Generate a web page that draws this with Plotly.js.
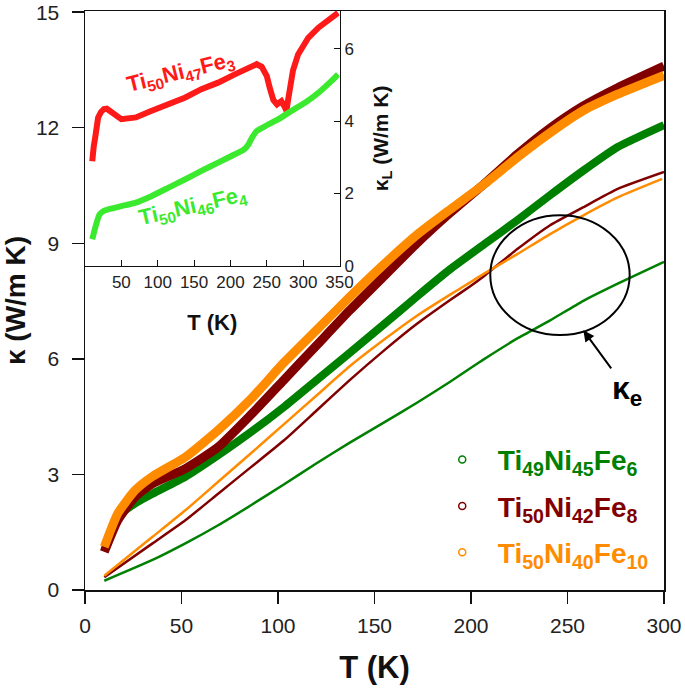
<!DOCTYPE html>
<html>
<head>
<meta charset="utf-8">
<script src="https://cdn.plot.ly/plotly-3.0.1.min.js"></script>
<style>
  html, body { margin: 0; padding: 0; background: #fff; }
  #gd { width: 685px; height: 691px; }
</style>
</head>
<body>
<div id="gd"></div>
<script>
// main panel: total kappa (thick) and electronic kappa_e (thin), T in K
const tThick = [10, 17, 26, 35, 52, 69, 86, 103, 120, 137, 155, 172, 189, 207, 224, 241, 258, 276, 300];
const kGreen = [1.02, 1.9, 2.25, 2.5, 2.94, 3.5, 4.1, 4.75, 5.45, 6.15, 6.9, 7.62, 8.32, 8.98, 9.6, 10.25, 10.88, 11.5, 12.07];
const kMaroon = [0.99, 1.81, 2.42, 2.76, 3.15, 3.71, 4.55, 5.45, 6.35, 7.25, 8.15, 9.0, 9.78, 10.55, 11.31, 11.99, 12.56, 13.04, 13.6];
const kOrange = [1.12, 1.99, 2.59, 2.95, 3.45, 4.15, 4.96, 5.9, 6.75, 7.6, 8.46, 9.22, 9.87, 10.54, 11.23, 11.87, 12.44, 12.87, 13.36];

const tThin = [10, 35, 52, 69, 86, 103, 120, 137, 155, 172, 189, 200, 207, 224, 241, 258, 276, 300];
const keGreen = [0.24, 0.78, 1.21, 1.68, 2.2, 2.74, 3.29, 3.82, 4.35, 4.86, 5.4, 5.77, 6.0, 6.53, 7.0, 7.5, 7.95, 8.52];
const keMaroon = [0.33, 1.21, 1.81, 2.5, 3.19, 3.88, 4.66, 5.44, 6.22, 6.91, 7.52, 7.9, 8.16, 8.85, 9.47, 9.93, 10.41, 10.85];
const tThinOrange = [10, 35, 52, 69, 86, 103, 120, 137, 155, 172, 189, 200, 207, 224, 241, 258, 276, 299];
const keOrange = [0.37, 1.38, 2.07, 2.81, 3.55, 4.3, 5.05, 5.8, 6.5, 7.12, 7.66, 8.0, 8.22, 8.72, 9.24, 9.72, 10.19, 10.67];

// inset: lattice kappa_L
const tInsetRed = [10, 10.5, 12, 14, 18, 22, 26, 30, 35, 40, 45, 50, 60, 70, 90, 115, 138, 160, 183, 206, 225, 236, 243, 250, 254, 259, 264, 270, 275, 277, 279, 281, 283, 286, 293, 307, 321, 335, 348];
const kInsetRed = [2.89, 3.1, 3.3, 3.54, 4.09, 4.25, 4.33, 4.34, 4.28, 4.2, 4.12, 4.05, 4.06, 4.1, 4.27, 4.46, 4.65, 4.88, 5.06, 5.29, 5.47, 5.57, 5.5, 5.24, 4.92, 4.58, 4.46, 4.55, 4.37, 4.28, 4.55, 4.85, 5.1, 5.4, 5.84, 6.3, 6.58, 6.81, 6.99];
const tInsetGreen = [10, 14, 20, 26, 32, 50, 69, 92, 115, 138, 160, 183, 206, 218, 225, 230, 236, 248, 266, 284, 303, 321, 339, 348];
const kInsetGreen = [0.73, 1.05, 1.42, 1.52, 1.56, 1.65, 1.74, 1.93, 2.16, 2.39, 2.62, 2.85, 3.08, 3.2, 3.36, 3.55, 3.72, 3.86, 4.05, 4.28, 4.51, 4.78, 5.11, 5.29];

const xTicks = [0, 50, 100, 150, 200, 250, 300];
const yTicks = [0, 3, 6, 9, 12, 15];
const xTicksInset = [50, 100, 150, 200, 250, 300, 350];
const yTicksInset = [0, 2, 4, 6];

const GREEN = '#008000', MAROON = '#800000', ORANGE = '#FF8C00';
const RED = '#FF1A1A', LIME = '#3BEA2E';
const FONT = 'Arial, "Liberation Sans", sans-serif';

function line(x, y, color, width, xa, ya, smooth) {
  return { x: x, y: y, type: 'scatter', mode: 'lines', showlegend: false, hoverinfo: 'skip',
    xaxis: xa || 'x', yaxis: ya || 'y',
    line: { color: color, width: width, shape: smooth ? 'spline' : 'linear', smoothing: smooth || 0 } };
}
function legendOnly(name, color, grp) {
  return { x: [null], y: [null], type: 'scatter', mode: 'markers', name: name, legendgroup: grp,
    marker: { symbol: 'circle-open', size: 7, color: color, line: { width: 1.5, color: color } } };
}
function chem(a, b, c, color) {
  return '<span style="color:' + color + '"><b>&nbsp;&nbsp;Ti<sub>' + a + '</sub>Ni<sub>' + b + '</sub>Fe<sub>' + c + '</sub></b></span>';
}

const data = [
  line(tThin, keGreen, GREEN, 2.5, 'x', 'y', 0.5),
  line(tThin, keMaroon, MAROON, 2.5, 'x', 'y', 0.5),
  line(tThinOrange, keOrange, ORANGE, 2.5, 'x', 'y', 0.5),
  line(tThick, kGreen, GREEN, 8, 'x', 'y', 0.5),
  line(tThick, kMaroon, MAROON, 9, 'x', 'y', 0.5),
  line(tThick, kOrange, ORANGE, 9, 'x', 'y', 0.5),
  line(tInsetRed, kInsetRed, RED, 6, 'x2', 'y2', 0),
  line(tInsetGreen, kInsetGreen, LIME, 6, 'x2', 'y2', 0.3),
  legendOnly(chem(49, 45, 6, GREEN), GREEN, 'a'),
  legendOnly(chem(50, 42, 8, MAROON), MAROON, 'b'),
  legendOnly(chem(50, 40, 10, ORANGE), ORANGE, 'c')
];

const layout = {
  width: 685, height: 691,
  margin: { l: 85, r: 21, t: 11, b: 101 },
  paper_bgcolor: '#fff', plot_bgcolor: 'rgba(0,0,0,0)',
  font: { family: FONT, color: '#111' },
  showlegend: true,
  legend: { x: 0.617, y: 0.268, xanchor: 'left', yanchor: 'top', bgcolor: 'rgba(0,0,0,0)',
    font: { size: 28, family: FONT }, itemwidth: 30, tracegroupgap: 7 },
  xaxis: {
    domain: [0, 1], range: [0, 300], tickvals: xTicks, ticks: 'outside', ticklen: 12, tickwidth: 1.5,
    tickcolor: '#111', showline: true, linecolor: '#111', linewidth: 1.5, mirror: true,
    showgrid: false, zeroline: false, tickfont: { size: 21, color: '#222' }, ticklabelstandoff: 4,
    title: { text: '<b>T (K)</b>', font: { size: 31 }, standoff: 20 }
  },
  yaxis: {
    domain: [0, 1], range: [0, 15.03], tickvals: yTicks, ticks: 'outside', ticklen: 12, tickwidth: 1.5,
    tickcolor: '#111', showline: true, linecolor: '#111', linewidth: 1.5, mirror: true,
    showgrid: false, zeroline: false, tickfont: { size: 21, color: '#222' }, ticklabelstandoff: 8,
    title: { text: '<b>κ (W/m K)</b>', font: { size: 28 }, standoff: 5 }
  },
  xaxis2: {
    domain: [0, 0.4396], range: [0, 350], anchor: 'y2', tickvals: xTicksInset, ticks: 'inside', ticklen: 6,
    tickcolor: '#111', showline: true, linecolor: '#111', linewidth: 1.5, mirror: true,
    showgrid: false, zeroline: false, tickfont: { size: 17, color: '#222' },
    title: { text: '<b>T (K)</b>', font: { size: 22 }, standoff: 24 }
  },
  yaxis2: {
    domain: [0.56, 1], range: [0, 7.04], anchor: 'x2', side: 'right', tickvals: yTicksInset, ticks: 'inside', ticklen: 6,
    tickcolor: '#111', showline: true, linecolor: '#111', linewidth: 1.5, mirror: true,
    showgrid: false, zeroline: false, tickfont: { size: 17, color: '#222' },
    title: { text: '<b>κ<sub>L</sub> (W/m K)</b>', font: { size: 21 }, standoff: 20 }
  },
  shapes: [
    { type: 'circle', xref: 'x', yref: 'y', x0: 210, x1: 282.2, y0: 6.62, y1: 9.73,
      line: { color: '#000', width: 2 } }
  ],
  annotations: [
    { xref: 'x', yref: 'y', x: 258.2, y: 6.74, ax: 44, ay: 60, text: '<b>κ<sub>e</sub></b>',
      font: { size: 32, color: '#000' }, showarrow: true, arrowhead: 2, arrowsize: 1.1, arrowwidth: 2,
      arrowcolor: '#000', standoff: 0 },
    { xref: 'x2', yref: 'y2', x: 132, y: 5.33, text: '<b>Ti<sub>50</sub>Ni<sub>47</sub>Fe<sub>3</sub></b>',
      textangle: -14, showarrow: false, font: { size: 22, color: RED } },
    { xref: 'x2', yref: 'y2', x: 148.5, y: 1.62, text: '<b>Ti<sub>50</sub>Ni<sub>46</sub>Fe<sub>4</sub></b>',
      textangle: -13, showarrow: false, font: { size: 22, color: LIME } }
  ]
};

Plotly.newPlot('gd', data, layout, { staticPlot: true, displayModeBar: false });
</script>
</body>
</html>
